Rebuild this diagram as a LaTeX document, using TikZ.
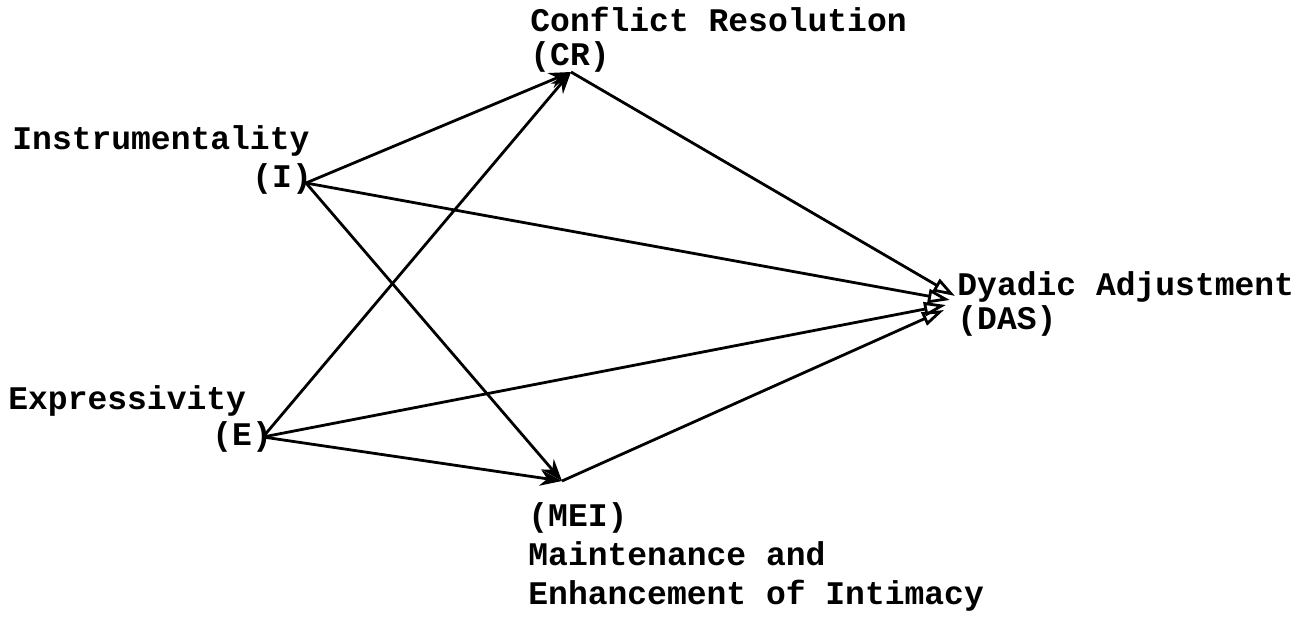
\documentclass[tikz,border=0pt]{standalone}
\usepackage{fontspec}
\setmonofont{Liberation Mono}
\usetikzlibrary{arrows.meta}
\tikzset{
  lbl/.style={anchor=base west, inner sep=0pt, font=\ttfamily\bfseries\fontsize{16.5}{20}\selectfont},
  path/.style={line width=1.4pt},
  solidhead/.style={path, -{Stealth[length=11pt,width=8pt]}},
  openhead/.style={path, -{Triangle[open,length=11pt,width=7pt,line width=1.4pt]}}
}
\begin{document}
\begin{tikzpicture}[x=0.5pt,y=-0.5pt]
  \useasboundingbox (0,0) rectangle (1303,619);

  % variable labels
  \node[lbl] (crname) at (530,32) {Conflict Resolution};
  \node[lbl] (crtag)  at (530,66) {(CR)};
  \node[lbl] (iname)  at (12,150) {Instrumentality};
  \node[lbl] (itag)   at (252,188) {(I)};
  \node[lbl] (ename)  at (8,410) {Expressivity};
  \node[lbl] (etag)   at (212,446) {(E)};
  \node[lbl] (dasname) at (957,296) {Dyadic Adjustment};
  \node[lbl] (dastag)  at (957,330) {(DAS)};
  \node[lbl] (meitag)  at (528,527) {(MEI)};
  \node[lbl] (meiname) at (528,566) {Maintenance and};
  \node[lbl] (meiname2) at (528,605) {Enhancement of Intimacy};

  % attachment points of the paths
  \coordinate (I)  at (306,183);
  \coordinate (E)  at (263,437);
  \coordinate (CR) at (571,72);
  \coordinate (MEI) at (562,481);
  \coordinate (DAS1) at (955,296);
  \coordinate (DAS2) at (950,300);
  \coordinate (DAS3) at (946,305);
  \coordinate (DAS4) at (944,310);

  % paths of the model
  \draw[solidhead] (I) -- (CR);
  \draw[solidhead] (E) -- (CR);
  \draw[solidhead] (I) -- (MEI);
  \draw[solidhead] (E) -- (MEI);
  \draw[openhead] (CR) -- (DAS1);
  \draw[openhead] (I) -- (DAS2);
  \draw[openhead] (E) -- (DAS3);
  \draw[openhead] (MEI) -- (DAS4);
\end{tikzpicture}
\end{document}
